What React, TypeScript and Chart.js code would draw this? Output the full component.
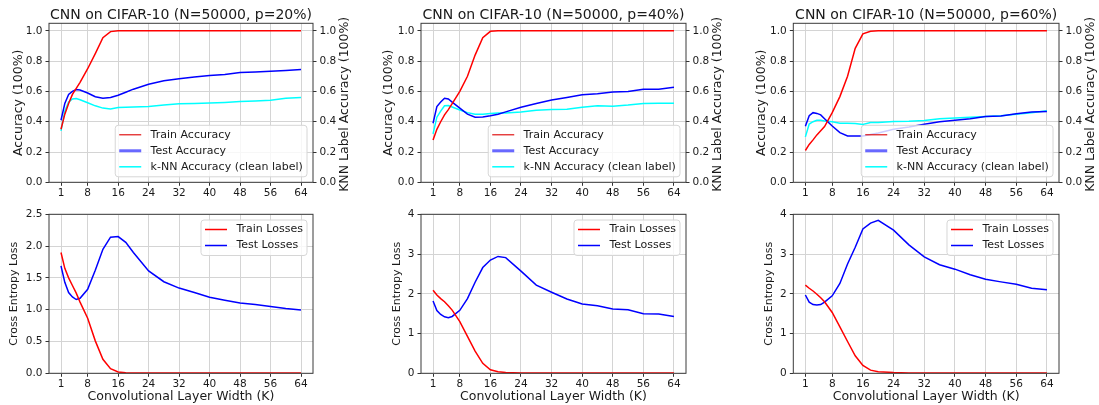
import React, { useEffect, useRef } from "react";
import { Chart, registerables } from "chart.js";

Chart.register(...registerables);

// ---------------- data ----------------
const K = [1, 2, 3, 4, 5, 6, 8, 10, 12, 14, 16, 18, 20, 24, 28, 32, 36, 40, 44, 48, 52, 56, 60, 64];
const xTickValues = [1, 8, 16, 24, 32, 40, 48, 56, 64];
const accTickValues = [0, 0.2, 0.4, 0.6, 0.8, 1.0];
const loss20TickValues = [0, 0.5, 1.0, 1.5, 2.0, 2.5];
const loss4TickValues = [0, 1, 2, 3, 4];

const titles = [
  "CNN on CIFAR-10 (N=50000, p=20%)",
  "CNN on CIFAR-10 (N=50000, p=40%)",
  "CNN on CIFAR-10 (N=50000, p=60%)",
];

const trainAcc20 = [0.35, 0.45, 0.52, 0.58, 0.62, 0.66, 0.75, 0.85, 0.955, 0.995, 1.0, 1.0, 1.0, 1.0, 1.0, 1.0, 1.0, 1.0, 1.0, 1.0, 1.0, 1.0, 1.0, 1.0];
const testAcc20 = [0.41, 0.52, 0.58, 0.6, 0.612, 0.61, 0.59, 0.565, 0.555, 0.56, 0.575, 0.595, 0.615, 0.648, 0.67, 0.684, 0.695, 0.705, 0.712, 0.725, 0.729, 0.733, 0.738, 0.745];
const knnAcc20 = [0.34, 0.47, 0.53, 0.55, 0.553, 0.545, 0.525, 0.505, 0.49, 0.484, 0.494, 0.496, 0.497, 0.5, 0.51, 0.518, 0.52, 0.523, 0.527, 0.533, 0.537, 0.542, 0.555, 0.56];

const trainAcc40 = [0.28, 0.35, 0.4, 0.445, 0.48, 0.52, 0.6, 0.7, 0.84, 0.955, 0.997, 1.0, 1.0, 1.0, 1.0, 1.0, 1.0, 1.0, 1.0, 1.0, 1.0, 1.0, 1.0, 1.0];
const testAcc40 = [0.39, 0.5, 0.53, 0.555, 0.55, 0.53, 0.49, 0.45, 0.43, 0.432, 0.44, 0.45, 0.465, 0.496, 0.52, 0.543, 0.56, 0.578, 0.585, 0.597, 0.6, 0.615, 0.615, 0.628];
const knnAcc40 = [0.32, 0.43, 0.47, 0.505, 0.507, 0.497, 0.477, 0.46, 0.45, 0.45, 0.455, 0.457, 0.458, 0.465, 0.475, 0.48, 0.482, 0.495, 0.505, 0.503, 0.51, 0.52, 0.522, 0.522];

const trainAcc60 = [0.21, 0.25, 0.28, 0.313, 0.34, 0.368, 0.46, 0.566, 0.7, 0.885, 0.98, 0.998, 1.0, 1.0, 1.0, 1.0, 1.0, 1.0, 1.0, 1.0, 1.0, 1.0, 1.0, 1.0];
const testAcc60 = [0.37, 0.44, 0.46, 0.455, 0.445, 0.42, 0.372, 0.328, 0.306, 0.305, 0.306, 0.315, 0.325, 0.35, 0.365, 0.383, 0.4, 0.41, 0.42, 0.434, 0.438, 0.452, 0.465, 0.467];
const knnAcc60 = [0.3, 0.385, 0.4, 0.41, 0.41, 0.405, 0.4, 0.39, 0.39, 0.388, 0.382, 0.395, 0.395, 0.402, 0.403, 0.408, 0.42, 0.425, 0.43, 0.435, 0.44, 0.45, 0.46, 0.472];

const trainLoss20 = [1.9, 1.65, 1.5, 1.38, 1.26, 1.12, 0.865, 0.51, 0.22, 0.073, 0.02, 0.01, 0.006, 0.004, 0.003, 0.003, 0.003, 0.003, 0.003, 0.003, 0.003, 0.003, 0.003, 0.003];
const testLoss20 = [1.69, 1.43, 1.27, 1.2, 1.16, 1.18, 1.32, 1.62, 1.95, 2.14, 2.15, 2.06, 1.9, 1.61, 1.44, 1.34, 1.27, 1.195, 1.15, 1.106, 1.08, 1.05, 1.02, 0.996];

const trainLoss40 = [2.09, 1.97, 1.88, 1.8, 1.7, 1.59, 1.3, 0.93, 0.56, 0.25, 0.09, 0.04, 0.02, 0.01, 0.008, 0.008, 0.008, 0.008, 0.008, 0.008, 0.008, 0.008, 0.008, 0.008];
const testLoss40 = [1.82, 1.58, 1.48, 1.42, 1.4, 1.43, 1.585, 1.88, 2.29, 2.66, 2.85, 2.94, 2.91, 2.57, 2.22, 2.04, 1.87, 1.745, 1.7, 1.62, 1.6, 1.5, 1.49, 1.43];

const trainLoss60 = [2.22, 2.14, 2.07, 1.99, 1.9, 1.8, 1.53, 1.17, 0.8, 0.44, 0.2, 0.08, 0.04, 0.02, 0.01, 0.01, 0.01, 0.01, 0.01, 0.01, 0.01, 0.01, 0.01, 0.01];
const testLoss60 = [1.97, 1.79, 1.73, 1.72, 1.73, 1.79, 1.95, 2.26, 2.75, 3.17, 3.63, 3.78, 3.85, 3.6, 3.23, 2.93, 2.73, 2.62, 2.48, 2.365, 2.3, 2.24, 2.14, 2.1];

// ---------------- style / layout ----------------
const FONT = "'DejaVu Sans', 'Liberation Sans', sans-serif";
const TXT = "#1a1a1a";
const GRID = "#d4d4d4";
const TICK = "#333333";
const FRAME = "#3a3a3a";
const RED = "#ff0000";
const BLUE = "#0000ff";
const CYAN = "#00ffff";
const XMIN = -2.15;
const XMAX = 67.15;
const TICK_SIZE = 10.5;

const COLS = [
  { l: 0, r: 366, plotL: 49, plotR: 313 },
  { l: 366, r: 733, plotL: 421, plotR: 686 },
  { l: 733, r: 1099, plotL: 793.3, plotR: 1059 },
];
const ROWS = [
  { top: 0, h: 200, plotTop: 23.3, plotBottom: 182.3 },
  { top: 200, h: 205, plotTop: 214.3, plotBottom: 373.3 },
];

const mplPlugin = {
  id: "mpl",
  afterDatasetsDraw(chart: any, _args: any, opts: any) {
    const ctx = chart.ctx as CanvasRenderingContext2D;
    const a = chart.chartArea;
    ctx.save();
    // axes frame
    ctx.strokeStyle = FRAME;
    ctx.lineWidth = 1;
    ctx.strokeRect(a.left, a.top, a.right - a.left, a.bottom - a.top);

    // legend box
    const ds = chart.data.datasets as any[];
    ctx.font = `11px ${FONT}`;
    const tw = Math.max(...ds.map((d) => ctx.measureText(d.label).width));
    const bw = 4 + 22 + 9.5 + tw + 4;
    const bh = 9.5 + (ds.length - 1) * 16 + 10;
    const bx = a.right - 6 - bw;
    const by = opts.legendPos === "ur" ? a.top + 5.7 : a.bottom - 5.5 - bh;
    ctx.beginPath();
    (ctx as any).roundRect(bx, by, bw, bh, 3);
    ctx.fillStyle = "rgba(255,255,255,0.8)";
    ctx.fill();
    ctx.strokeStyle = "#d6d6d6";
    ctx.lineWidth = 1;
    ctx.stroke();
    ds.forEach((d, i) => {
      const cy = by + 9.5 + i * 16;
      ctx.beginPath();
      ctx.moveTo(bx + 4, cy);
      ctx.lineTo(bx + 26, cy);
      ctx.strokeStyle = d.legendColor;
      ctx.lineWidth = d.legendWidth;
      ctx.stroke();
      ctx.fillStyle = TXT;
      ctx.textAlign = "left";
      ctx.textBaseline = "middle";
      ctx.fillText(d.label, bx + 35.4, cy);
    });

    // right-hand axis label (reads bottom to top)
    if (opts.rightLabel) {
      ctx.translate(a.right + opts.rightOffset, (a.top + a.bottom) / 2 + 1.5);
      ctx.rotate(-Math.PI / 2);
      ctx.font = `12.5px ${FONT}`;
      ctx.fillStyle = TXT;
      ctx.textAlign = "center";
      ctx.textBaseline = "middle";
      ctx.fillText(opts.rightLabel, 0, 0);
    }
    ctx.restore();
  },
};

type Series = {
  label: string;
  values: number[];
  color: string;
  legendColor: string;
  legendWidth: number;
  axis: string;
};

type Spec = {
  col: number;
  row: number;
  title?: string;
  yLabel: string;
  yLabelSize: number;
  yLabelX: number;
  rightLabel?: string;
  yMax: number;
  yTicks: number[];
  yDigits: number;
  legendPos: "lr" | "ur";
  series: Series[];
};

function buildConfig(s: Spec): any {
  const c = COLS[s.col];
  const r = ROWS[s.row];
  const isTop = s.row === 0;
  const tickFont = { family: FONT, size: TICK_SIZE };
  const yTitlePad = s.yLabelX - c.l - (s.yLabelSize * 1.2) / 2;

  const scales: any = {
    x: {
      type: "linear",
      min: XMIN,
      max: XMAX,
      afterBuildTicks: (sc: any) => {
        sc.ticks = xTickValues.map((v) => ({ value: v }));
      },
      afterFit: (sc: any) => {
        sc.height = r.top + r.h - r.plotBottom;
      },
      ticks: {
        font: tickFont,
        color: TXT,
        padding: 1,
        maxRotation: 0,
        autoSkip: false,
        callback: (v: any) => String(v),
      },
      grid: { color: GRID, lineWidth: 1, tickLength: 3.5, tickColor: TICK, tickWidth: 1 },
      border: { display: false },
      title: isTop
        ? { display: false }
        : {
            display: true,
            text: "Convolutional Layer Width (K)",
            font: { family: FONT, size: 12.5 },
            color: TXT,
            padding: { top: 0, bottom: 0.5 },
          },
    },
    y: {
      type: "linear",
      position: "left",
      min: 0,
      max: s.yMax,
      afterBuildTicks: (sc: any) => {
        sc.ticks = s.yTicks.map((v) => ({ value: v }));
      },
      afterFit: (sc: any) => {
        sc.width = c.plotL - c.l;
      },
      ticks: {
        font: tickFont,
        color: TXT,
        padding: 3,
        autoSkip: false,
        callback: (v: any) => Number(v).toFixed(s.yDigits),
      },
      grid: { color: GRID, lineWidth: 1, tickLength: 3.5, tickColor: TICK, tickWidth: 1 },
      border: { display: false },
      title: {
        display: true,
        text: s.yLabel,
        font: { family: FONT, size: s.yLabelSize },
        color: TXT,
        padding: { top: yTitlePad, bottom: 0 },
      },
    },
  };

  if (isTop) {
    scales.y1 = {
      type: "linear",
      position: "right",
      min: 0,
      max: s.yMax,
      afterBuildTicks: (sc: any) => {
        sc.ticks = s.yTicks.map((v) => ({ value: v }));
      },
      afterFit: (sc: any) => {
        sc.width = c.r - c.plotR;
      },
      ticks: {
        font: tickFont,
        color: TXT,
        padding: 3,
        autoSkip: false,
        callback: (v: any) => Number(v).toFixed(s.yDigits),
      },
      grid: { drawOnChartArea: false, color: GRID, tickLength: 3.5, tickColor: TICK, tickWidth: 1 },
      border: { display: false },
    };
  }

  return {
    type: "line",
    data: {
      datasets: s.series.map((se) => ({
        label: se.label,
        data: K.map((k, i) => ({ x: k, y: se.values[i] })),
        borderColor: se.color,
        backgroundColor: se.color,
        borderWidth: 1.5,
        pointRadius: 0,
        tension: 0,
        fill: false,
        yAxisID: se.axis,
        legendColor: se.legendColor,
        legendWidth: se.legendWidth,
      })),
    },
    options: {
      responsive: false,
      animation: false,
      devicePixelRatio: 1,
      layout: {
        padding: {
          top: isTop ? 0 : r.plotTop - r.top,
          left: 0,
          right: isTop ? 0 : c.r - c.plotR,
          bottom: 0,
        },
      },
      scales,
      plugins: {
        legend: { display: false },
        tooltip: { enabled: false },
        title: isTop
          ? {
              display: true,
              text: s.title,
              fullSize: false,
              font: { family: FONT, size: 14, weight: "normal" },
              color: TXT,
              padding: { top: 6.5, bottom: 0 },
            }
          : { display: false },
        mpl: {
          legendPos: s.legendPos,
          rightLabel: s.rightLabel,
          rightOffset: 32,
        },
      },
    },
    plugins: [mplPlugin],
  };
}

function accSeries(train: number[], test: number[], knn: number[]): Series[] {
  return [
    { label: "Train Accuracy", values: train, color: RED, legendColor: "#dd0000", legendWidth: 1.1, axis: "y" },
    { label: "Test Accuracy", values: test, color: BLUE, legendColor: "rgba(40,40,255,0.7)", legendWidth: 3, axis: "y" },
    { label: "k-NN Accuracy (clean label)", values: knn, color: CYAN, legendColor: CYAN, legendWidth: 1.5, axis: "y1" },
  ];
}

function lossSeries(train: number[], test: number[]): Series[] {
  return [
    { label: "Train Losses", values: train, color: RED, legendColor: RED, legendWidth: 1.5, axis: "y" },
    { label: "Test Losses", values: test, color: BLUE, legendColor: BLUE, legendWidth: 1.5, axis: "y" },
  ];
}

const accLabelX = [19, 388.3, 761.7];
const lossLabelX = [14, 396.7, 769.3];

const specs: Spec[] = [
  { col: 0, row: 0, title: titles[0], yLabel: "Accuracy (100%)", yLabelSize: 12.5, yLabelX: accLabelX[0], rightLabel: "KNN Label Accuracy (100%)", yMax: 1.05, yTicks: accTickValues, yDigits: 1, legendPos: "lr", series: accSeries(trainAcc20, testAcc20, knnAcc20) },
  { col: 1, row: 0, title: titles[1], yLabel: "Accuracy (100%)", yLabelSize: 12.5, yLabelX: accLabelX[1], rightLabel: "KNN Label Accuracy (100%)", yMax: 1.05, yTicks: accTickValues, yDigits: 1, legendPos: "lr", series: accSeries(trainAcc40, testAcc40, knnAcc40) },
  { col: 2, row: 0, title: titles[2], yLabel: "Accuracy (100%)", yLabelSize: 12.5, yLabelX: accLabelX[2], rightLabel: "KNN Label Accuracy (100%)", yMax: 1.05, yTicks: accTickValues, yDigits: 1, legendPos: "lr", series: accSeries(trainAcc60, testAcc60, knnAcc60) },
  { col: 0, row: 1, yLabel: "Cross Entropy Loss", yLabelSize: 11, yLabelX: lossLabelX[0], yMax: 2.5, yTicks: loss20TickValues, yDigits: 1, legendPos: "ur", series: lossSeries(trainLoss20, testLoss20) },
  { col: 1, row: 1, yLabel: "Cross Entropy Loss", yLabelSize: 11, yLabelX: lossLabelX[1], yMax: 4, yTicks: loss4TickValues, yDigits: 0, legendPos: "ur", series: lossSeries(trainLoss40, testLoss40) },
  { col: 2, row: 1, yLabel: "Cross Entropy Loss", yLabelSize: 11, yLabelX: lossLabelX[2], yMax: 4, yTicks: loss4TickValues, yDigits: 0, legendPos: "ur", series: lossSeries(trainLoss60, testLoss60) },
];

function Panel({ spec }: { spec: Spec }) {
  const ref = useRef<HTMLCanvasElement>(null);
  useEffect(() => {
    const chart = new Chart(ref.current as HTMLCanvasElement, buildConfig(spec));
    return () => chart.destroy();
  }, [spec]);
  const c = COLS[spec.col];
  const r = ROWS[spec.row];
  const w = c.r - c.l;
  return (
    <canvas
      ref={ref}
      width={w}
      height={r.h}
      style={{ position: "absolute", left: c.l, top: r.top, width: w, height: r.h }}
    />
  );
}

export default function App() {
  return (
    <div
      style={{
        position: "absolute",
        left: 0,
        top: 0,
        width: 1099,
        height: 405,
        background: "#ffffff",
        overflow: "hidden",
      }}
    >
      {specs.map((s, i) => (
        <Panel key={i} spec={s} />
      ))}
    </div>
  );
}
